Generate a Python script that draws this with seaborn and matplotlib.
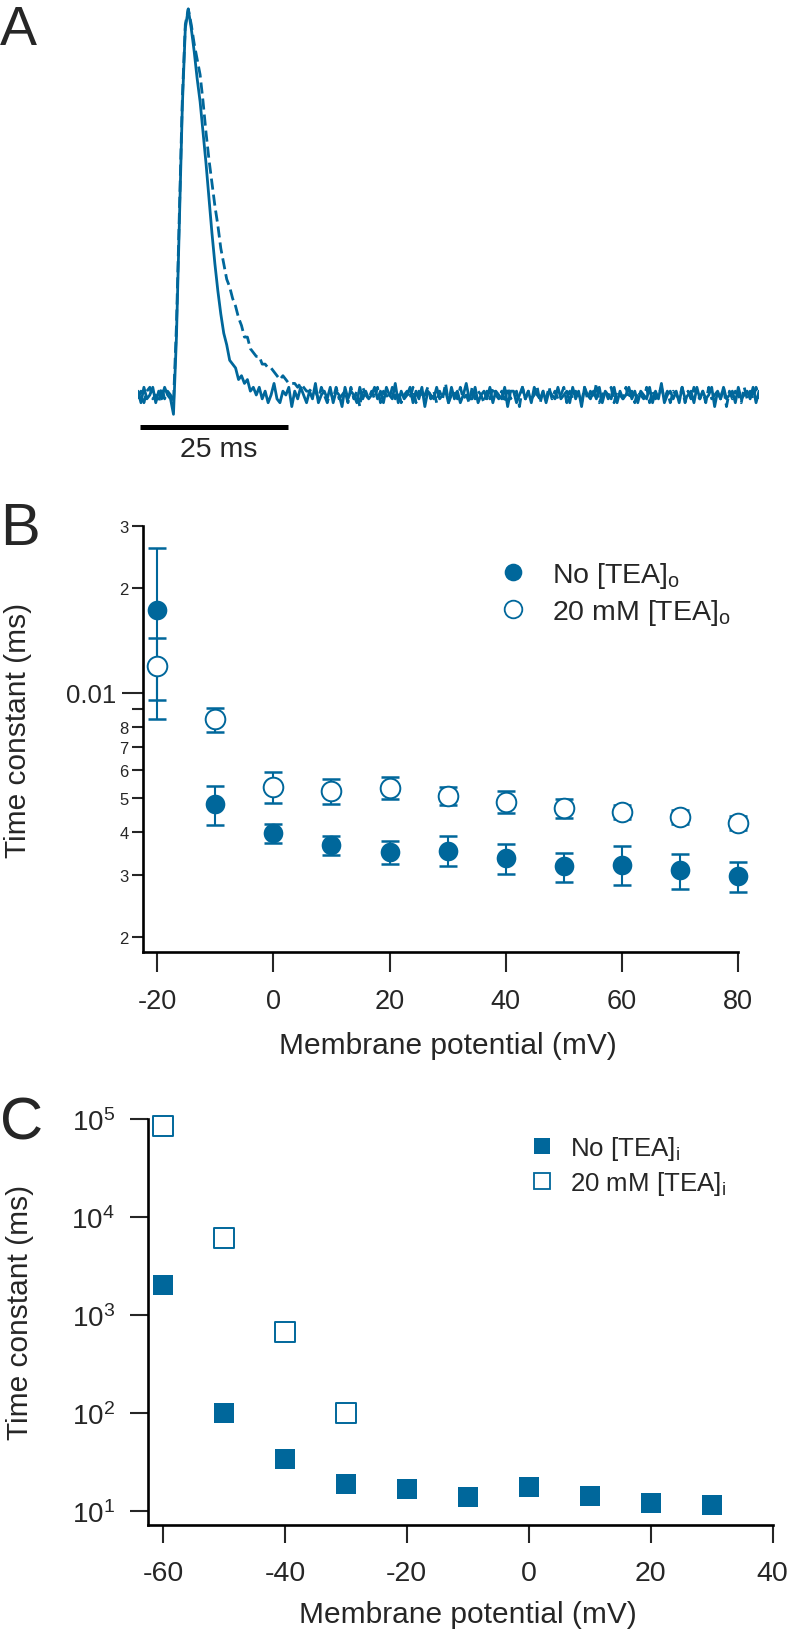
import numpy as np
import matplotlib
matplotlib.use("Agg")
import matplotlib.pyplot as plt
import seaborn as sns
from matplotlib.lines import Line2D
from matplotlib.ticker import FixedLocator, FuncFormatter, NullLocator

# --- Panel A: normalised current traces (% of peak), one sample per 0.5 ms ---
SAMPLE_MS = 0.5
SCALE_BAR_MS = 25
trace_control = [
    1, -2, 2, -1, 0, 2, -2, 1, -1, 2, 0, -1,
    -5, 15, 45, 75, 95, 100, 95, 89, 82, 76, 68, 60, 51, 42, 34, 27, 21, 16,
    13, 9, 8, 7, 4, 5, 3, 4, 1, 2, 0,
    2, -1, 1, -2, 0, 3, -1, -2, 1, 0, 2, -3, 1, -1, 2, 0, -2, 1, -1, 3,
    -2, 0, 1, -1, 2, -2, 1, 0, -3, 2, -1, 1, 0, -2, 2, -1, 1, -1, 0, 2,
    -1, 1, -2, 2, 0, -1, 3, -2, 1, -1, 0, 2, -2, 1, -1, 2, -3, 1, 0, -1,
    2, -1, 0, 1, -2, 2, -1, 1, -2, 0, 3, -1, -1, 2, -2, 0, 1, -1, 2, -2,
    1, 0, -1, 2, -3, 1, 1, -2, 0, 2, -1, 1, -2, 2, 0, -1, 1, -2, 1, 0,
    -1, 2, -1, 0, 1, -2, 2, -1, 1, -3, 2, 0, -1, 1, -1, 2, -2, 1, 0, -1,
    2, -2, 1, -1, 0, 2, -1, 1, -2, 1, 0, -1, 2, -2, 1, -1, 3, -2, 0, 1,
    -1, 1, -2, 2, -1, 0, 1, -2, 2, -1, 1, -1, 0, 2, -3, 1, -1, 2, -1, 0,
    1, -2, 2, -1, 0, 1, -1, 2, -2, 1,
]
trace_tea = [
    -1, 1, -2, 1, 2, -1, 0, -2, 2, -1, 1, 0,
    -2, 18, 48, 77, 96, 100, 96, 91, 87, 83, 76, 68, 61, 55, 49, 44, 38, 34,
    30, 28, 25, 23, 20, 18, 15, 15, 12, 11, 10, 10, 8, 8, 7, 7, 6, 5, 4, 5,
    4, 3, 3, 3, 2, 3, 2, 1, 1, 2, 1,
    -1, 2, 0, -2, 1, -1, 2, -1, 0, 1, -2, 2, -1, 1, -3, 2, 0, -1, 1, -1,
    2, -2, 1, 0, -1, 2, -1, 1, -2, 0, 1, -1, 2, -2, 1, -1, 0, 2, -1, 1,
    -2, 1, -1, 3, -2, 0, 1, -1, 2, -1, 0, -2, 2, -1, 1, 0, -2, 1, -1, 2,
    0, -1, 1, -2, 2, -1, 0, 1, -3, 2, -1, 1, -1, 0, 2, -2, 1, -1, 2, -1,
    1, -1, 0, 2, -2, 1, -1, 1, 0, -2, 2, -1, 1, -1, 3, -2, 0, 1, -1, 2,
    -2, 1, 0, -1, 2, -1, 1, -2, 1, 0, -1, 2, -2, 1, -1, 0, 2, -1, 1, -2,
    1, 0, -1, 2, -2, 1, -1, 2, 0, -1, 1, -2, 2, -1, 0, 1, -1, 2, -3, 1,
    -1, 1, 0, -2, 2, -1, 1, -1, 2, -1,
]

# --- Panel B: time constants with external TEA (mean +/- error) ---
voltage_b = [-20, -10, 0, 10, 20, 30, 40, 50, 60, 70, 80]
tau_no_tea_o = [0.0172, 0.00479, 0.00396, 0.00366, 0.0035, 0.00353, 0.00336, 0.00318, 0.00322, 0.0031, 0.00298]
err_no_tea_o = [0.0088, 0.0006, 0.00024, 0.00022, 0.00027, 0.00035, 0.00034, 0.0003, 0.00041, 0.00035, 0.00029]
tau_tea_o = [0.01195, 0.00839, 0.00537, 0.00524, 0.00535, 0.00506, 0.00487, 0.00467, 0.00456, 0.0044, 0.00424]
err_tea_o = [0.0024, 0.00065, 0.00055, 0.00043, 0.0004, 0.0003, 0.00036, 0.0003, 0.0002, 0.0002, 0.0002]
xticks_b = [-20, 0, 20, 40, 60, 80]
major_y_b = [0.01]
minor_y_b = [0.002, 0.003, 0.004, 0.005, 0.006, 0.007, 0.008, 0.009, 0.02, 0.03]
minor_labels_b = ["2", "3", "4", "5", "6", "7", "8", "", "2", "3"]

# --- Panel C: time constants with internal TEA ---
voltage_c = [-60, -50, -40, -30, -20, -10, 0, 10, 20, 30]
tau_no_tea_i = [2005, 100, 34.4, 18.8, 16.9, 13.9, 17.6, 14.3, 12.0, 11.5]
voltage_c_tea = [-60, -50, -40, -30]
tau_tea_i = [84300, 6090, 670, 100]
xticks_c = [-60, -40, -20, 0, 20, 40]
yticks_c = [1e1, 1e2, 1e3, 1e4, 1e5]

BLUE = "#00679b"
W, H = 788, 1631

sns.set_style("ticks")
plt.rcParams["font.family"] = ["Liberation Sans", "DejaVu Sans"]
plt.rcParams["mathtext.fontset"] = "custom"
plt.rcParams["mathtext.rm"] = "Liberation Sans"
plt.rcParams["mathtext.it"] = "Liberation Sans:italic"
plt.rcParams["axes.unicode_minus"] = False


def rect(left, top, right, bottom):
    return [left / W, 1 - bottom / H, (right - left) / W, (bottom - top) / H]


def style_axes(ax):
    sns.despine(ax=ax)
    for side in ["left", "bottom"]:
        ax.spines[side].set_linewidth(1.9)
        ax.spines[side].set_color("black")


fig = plt.figure(figsize=(W / 100, H / 100), dpi=100)

# ---------------- Panel A ----------------
ax_a = fig.add_axes(rect(138, 0, 759, 470))
t_ms = np.arange(len(trace_control)) * SAMPLE_MS
sns.lineplot(x=t_ms, y=np.array(trace_tea) / 100, ax=ax_a, color=BLUE, lw=2.0,
             estimator=None, sort=False)
ax_a.lines[-1].set_dashes([4, 1.8])
sns.lineplot(x=t_ms, y=np.array(trace_control) / 100, ax=ax_a, color=BLUE, lw=2.0,
             estimator=None, sort=False)
ax_a.set_xlim(0, 105)
ax_a.set_ylim(-0.1917, 1.0259)
ax_a.axis("off")
bar_start = 0.34
ax_a.plot([bar_start, bar_start + SCALE_BAR_MS], [-0.083, -0.083], color="black",
          lw=3.6, solid_capstyle="butt", clip_on=False)
ax_a.text(bar_start + SCALE_BAR_MS / 2 + 0.8, -0.14, f"{SCALE_BAR_MS} ms",
          ha="center", va="center", fontsize=20.5)

# ---------------- Panel B ----------------
ax_b = fig.add_axes(rect(143, 527, 738, 953))
ax_b.set_yscale("log")
for tau, err in [(tau_no_tea_o, err_no_tea_o), (tau_tea_o, err_tea_o)]:
    eb = ax_b.errorbar(voltage_b, tau, yerr=err, fmt="none", ecolor=BLUE,
                       elinewidth=1.5, capsize=6.5, capthick=1.8, zorder=2)
    for art in eb.get_children():
        art.set_clip_on(False)
sns.scatterplot(x=voltage_b, y=tau_no_tea_o, ax=ax_b, marker="o", s=200,
                color=BLUE, edgecolor=BLUE, linewidth=0, zorder=3, clip_on=False)
sns.scatterplot(x=voltage_b, y=tau_tea_o, ax=ax_b, marker="o", s=200,
                color="white", edgecolor=BLUE, linewidth=1.4, zorder=3, clip_on=False)
ax_b.set_xlim(-22.46, 80)
ax_b.set_ylim(0.00181, 0.03)
ax_b.set_xticks(xticks_b)
ax_b.xaxis.set_minor_locator(NullLocator())
ax_b.yaxis.set_major_locator(FixedLocator(major_y_b))
ax_b.yaxis.set_major_formatter(FuncFormatter(lambda v, p: f"{v:g}"))
ax_b.yaxis.set_minor_locator(FixedLocator(minor_y_b))
ax_b.yaxis.set_minor_formatter(FuncFormatter(lambda v, p: minor_labels_b[p]))
ax_b.tick_params(axis="x", which="major", direction="out", length=14.4, width=1.5,
                 labelsize=19.5, pad=11.5)
ax_b.tick_params(axis="y", which="major", direction="out", length=15, width=1.5,
                 labelsize=18.5, pad=4.3)
ax_b.tick_params(axis="y", which="minor", direction="out", length=8, width=1.5,
                 labelsize=12, pad=2.5)
style_axes(ax_b)
ax_b.set_xlabel("Membrane potential (mV)", fontsize=21.5, va="center")
ax_b.set_ylabel("Time constant (ms)", fontsize=21.5, va="center")
ax_b.xaxis.set_label_coords(0.5118, -0.2183)
ax_b.yaxis.set_label_coords(-0.2101, 0.5235)

handles_b = [
    Line2D([], [], ls="none", marker="o", markersize=12.7, mfc=BLUE, mec=BLUE, mew=0),
    Line2D([], [], ls="none", marker="o", markersize=12.7, mfc="white", mec=BLUE, mew=1.3),
]
fig.legend(handles_b, [r"No [TEA]$_\mathregular{o}$", r"20 mM [TEA]$_\mathregular{o}$"],
           loc="center left", bbox_to_anchor=(498.5 / W, 1 - 594.5 / H), frameon=False,
           fontsize=20.5, handlelength=1.0, handletextpad=0.87, labelspacing=0.25,
           borderpad=0, borderaxespad=0)

# ---------------- Panel C ----------------
ax_c = fig.add_axes(rect(148, 1120, 772.5, 1526))
ax_c.set_yscale("log")
sns.scatterplot(x=voltage_c, y=tau_no_tea_i, ax=ax_c, marker="s", s=228,
                color=BLUE, edgecolor=BLUE, linewidth=0, zorder=3, clip_on=False)
sns.scatterplot(x=voltage_c_tea, y=tau_tea_i, ax=ax_c, marker="s", s=200,
                color="white", edgecolor=BLUE, linewidth=1.4, zorder=3, clip_on=False)
ax_c.set_xlim(-62.46, 40)
ax_c.set_ylim(7.23, 1e5)
ax_c.set_xticks(xticks_c)
ax_c.xaxis.set_minor_locator(NullLocator())
ax_c.yaxis.set_major_locator(FixedLocator(yticks_c))
ax_c.yaxis.set_minor_locator(NullLocator())
ax_c.yaxis.set_major_formatter(
    FuncFormatter(lambda v, p: r"$\mathregular{10^{%d}}$" % round(np.log10(v))))
ax_c.tick_params(axis="x", direction="out", length=13.2, width=1.5, labelsize=20.5, pad=12)
ax_c.tick_params(axis="y", direction="out", length=13.2, width=1.5, labelsize=20, pad=10.8)
style_axes(ax_c)
ax_c.set_xlabel("Membrane potential (mV)", fontsize=21.5, va="center")
ax_c.set_ylabel("Time constant (ms)", fontsize=21.5, va="center")
ax_c.xaxis.set_label_coords(0.5124, -0.2192)
ax_c.yaxis.set_label_coords(-0.205, 0.527)

handles_c = [
    Line2D([], [], ls="none", marker="s", markersize=11.5, mfc=BLUE, mec=BLUE, mew=0),
    Line2D([], [], ls="none", marker="s", markersize=11, mfc="white", mec=BLUE, mew=1.3),
]
fig.legend(handles_c, [r"No [TEA]$_\mathregular{i}$", r"20 mM [TEA]$_\mathregular{i}$"],
           loc="center left", bbox_to_anchor=(529.1 / W, 1 - 1166.5 / H), frameon=False,
           fontsize=18.6, handlelength=1.0, handletextpad=0.585, labelspacing=0.25,
           borderpad=0, borderaxespad=0)

# panel letters
fig.text(0.0, 1 - 45 / H, "A", fontsize=40, va="baseline", ha="left")
fig.text(0.0, 1 - 545 / H, "B", fontsize=43, va="baseline", ha="left")
fig.text(0.0, 1 - 1140 / H, "C", fontsize=43, va="baseline", ha="left")

fig.savefig("out.png", dpi=100)
